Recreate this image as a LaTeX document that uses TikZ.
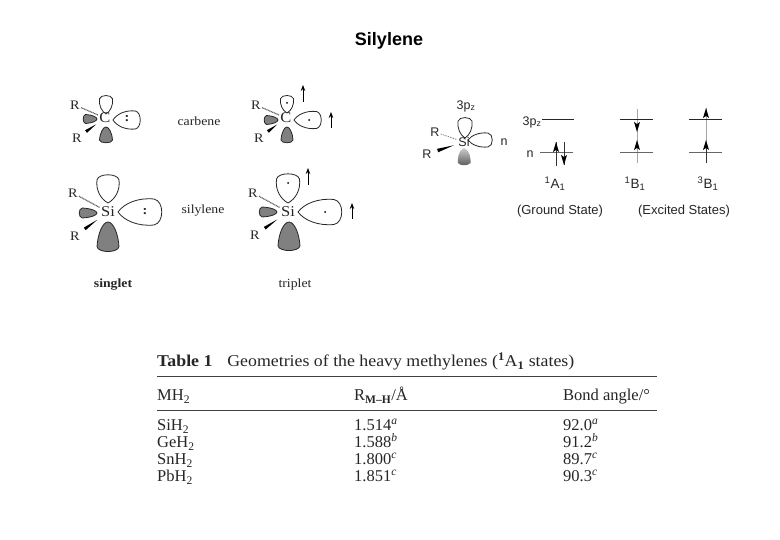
\documentclass[tikz,border=0pt]{standalone}
\usepackage{fontspec}
\setmainfont{Liberation Serif}
\setsansfont{Liberation Sans}
\newfontfamily\capfont[FakeStretch=1.08]{Liberation Serif}
\newfontfamily\lblfont[FakeStretch=1.1]{Liberation Serif}
\usetikzlibrary{calc,arrows.meta}
\definecolor{ink}{gray}{0.15}
\definecolor{lobefill}{gray}{0.5}
\tikzset{
 x=1pt,y=-1pt,
 serif/.style={font=\lblfont\fontsize{#1}{#1}\selectfont,text=ink,inner sep=0pt},
 sans/.style={font=\sffamily\fontsize{#1}{#1}\selectfont,text=ink,inner sep=0pt},
 tabtext/.style={font=\rmfamily\fontsize{16.5}{16.5}\selectfont,text=ink,inner sep=0pt,anchor=base west},
 atom/.style={serif=15,inner sep=1pt},
 rgroup/.style={serif=13,inner sep=1pt},
 atomb/.style={sans=12.5,inner sep=1pt},
 rgroupb/.style={sans=12.5,inner sep=1pt},
 openlobe/.style={draw=ink,line width=0.8pt,fill=white,line join=round},
 graylobe/.style={draw=ink,line width=0.8pt,fill=lobefill,line join=round},
 spin/.style={line width=0.9pt,draw=black,-{Stealth[length=6pt,width=4.5pt]}},
 dotbond/.style={draw=black!60,line width=1.2pt,dash pattern=on 1pt off 0.6pt},
 level/.style={line width=1pt,draw=black!85},
 levelgray/.style={line width=1pt,draw=black!60},
 guide/.style={line width=0.5pt,draw=black!35},
 rowrule/.style={line width=1pt,draw=black!75},
}
% tip x, tip y, angle, length, width, style
\newcommand{\lobe}[6]{\draw[#6,shift={(#1,#2)},rotate=#3]
 (0,0) .. controls ({.14*#4},{.34*#5}) and ({.45*#4},{.56*#5}) .. ({.8*#4},{.5*#5})
 .. controls ({1.03*#4},{.42*#5}) and ({1.03*#4},{-.42*#5}) .. ({.8*#4},{-.5*#5})
 .. controls ({.45*#4},{-.56*#5}) and ({.14*#4},{-.34*#5}) .. (0,0) -- cycle;}
\newcommand{\egg}[6]{\draw[#6,shift={(#1,#2)},rotate=#3]
 (0,0) .. controls ({0*#4},{.22*#5}) and ({.35*#4},{.46*#5}) .. ({.82*#4},{.5*#5})
 .. controls ({1.04*#4},{.45*#5}) and ({1.04*#4},{-.45*#5}) .. ({.82*#4},{-.5*#5})
 .. controls ({.35*#4},{-.46*#5}) and ({0*#4},{-.22*#5}) .. (0,0) -- cycle;}
% wedge: broad end at the R group (first name), point at the atom (second name)
\newcommand{\wedgebond}[3]{\path (#1) -- (#2) coordinate[pos=.2](wa) coordinate[pos=.86](wb);
 \fill[black] (wb) -- ($(wa)!#3!90:(wb)$) -- ($(wa)!#3!-90:(wb)$) -- cycle;}
\newcommand{\elec}[2]{\fill[black] (#1,#2) circle (1pt);}
\newcommand{\headup}[2]{\fill[black] (#1,#2) -- (#1+3,#2+10) -- (#1,#2+8) -- (#1-3,#2+10) -- cycle;}
\newcommand{\headdown}[2]{\fill[black] (#1,#2) -- (#1+3,#2-10) -- (#1,#2-8) -- (#1-3,#2-10) -- cycle;}
\begin{document}
\begin{tikzpicture}
\useasboundingbox (0,0) rectangle (780,540);
\fill[white] (0,0) rectangle (780,540);
\node[font=\sffamily\bfseries\fontsize{18}{18}\selectfont,text=black,inner sep=0pt] (title) at (389,41) {Silylene};

% carbene singlet
\lobe{106}{114}{90}{19}{13}{openlobe}
\lobe{113}{120}{0}{28}{18}{openlobe}
\egg{97}{119}{180}{14}{9}{graylobe}
\egg{106}{127}{-90}{16}{13}{graylobe}
\node[atom] (c1) at (105,118) {C};
\node[rgroup] (r1a) at (75,105) {R};
\node[rgroup] (r1b) at (77,138) {R};
\draw[dotbond] (r1a) -- (c1);
\wedgebond{r1b}{c1}{1.6pt}
\node[serif=13] (cn1) at (127,119) {\textbf{:}};
\node[serif=12.5] (carb) at (199,121) {carbene};

% silylene singlet
\lobe{108}{203}{90}{29}{22}{openlobe}
\lobe{118}{212}{0}{45}{26}{openlobe}
\egg{97}{213}{180}{18}{10}{graylobe}
\egg{108}{222}{-90}{30}{22}{graylobe}
\node[atom] (si1) at (108,212) {Si};
\node[rgroup] (r2a) at (73,193) {R};
\node[rgroup] (r2b) at (75,236) {R};
\draw[dotbond] (r2a) -- (si1);
\wedgebond{r2b}{si1}{1.6pt}
\node[serif=13] (cn2) at (145,212) {\textbf{:}};
\node[serif=12.5] (sily) at (203,211) {silylene};
\node[font=\lblfont\bfseries\fontsize{12.5}{12.5}\selectfont,text=ink,inner sep=0pt] (sing) at (113,285) {singlet};

% carbene triplet
\lobe{287}{113}{90}{18}{13}{openlobe}
\lobe{294}{120}{0}{28}{17}{openlobe}
\egg{278}{120}{180}{14}{9}{graylobe}
\egg{287}{127}{-90}{16}{12}{graylobe}
\node[atom] (c2) at (286,118) {C};
\node[rgroup] (r3a) at (256,105) {R};
\node[rgroup] (r3b) at (259,138) {R};
\draw[dotbond] (r3a) -- (c2);
\wedgebond{r3b}{c2}{1.6pt}
\elec{287}{103}
\elec{309}{120}
\coordinate (u1a) at (303,102); \coordinate (u1b) at (303,85);
\coordinate (u2a) at (331,128); \coordinate (u2b) at (331,112);
\draw[spin] (u1a) -- (u1b);
\draw[spin] (u2a) -- (u2b);

% silylene triplet
\lobe{288}{203}{90}{30}{23}{openlobe}
\lobe{298}{212}{0}{45}{25}{openlobe}
\egg{277}{212}{180}{18}{10}{graylobe}
\egg{289}{222}{-90}{29}{22}{graylobe}
\node[atom] (si2) at (288,212) {Si};
\node[rgroup] (r4a) at (253,193) {R};
\node[rgroup] (r4b) at (255,235) {R};
\draw[dotbond] (r4a) -- (si2);
\wedgebond{r4b}{si2}{1.6pt}
\elec{288}{183}
\elec{325}{212}
\coordinate (u3a) at (308,185); \coordinate (u3b) at (308,168);
\coordinate (u4a) at (352,219); \coordinate (u4b) at (352,203);
\draw[spin] (u3a) -- (u3b);
\draw[spin] (u4a) -- (u4b);
\node[serif=12.5] (trip) at (295,284) {triplet};

% silylene structure right
\lobe{465}{138}{90}{21}{14}{openlobe}
\lobe{468}{140}{0}{25}{14}{openlobe}
\shade[top color=black!20,bottom color=black!65] (464,148) .. controls (458,150) and (457.5,160) .. (458,163) .. controls (460,166) and (468,166) .. (470.5,163) .. controls (471,160) and (470,150) .. (464,148) -- cycle;
\node[atomb] (si3) at (464,142) {Si};
\node[atomb] (r5a) at (435,132) {R};
\node[atomb] (r5b) at (427,154) {R};
\draw[draw=black!60,line width=0.6pt,dash pattern=on 1.5pt off 1pt] (r5a) -- (si3);
\wedgebond{r5b}{si3}{1.8pt}
\node[sans=12.5] (pz1) at (466,106) {3p\textsubscript{z}};
\node[sans=12.5] (n1) at (504,142) {n};

% levels
\node[sans=12.5] (pz2) at (532,122) {3p\textsubscript{z}};
\node[sans=12.5] (n2) at (530,154) {n};
\coordinate (la1) at (542,120); \coordinate (la2) at (574,120);
\coordinate (lb1) at (540,153); \coordinate (lb2) at (573,153);
\draw[level] (la1) -- (la2);
\draw[levelgray] (lb1) -- (lb2);
\coordinate (a1) at (556,166); \coordinate (a2) at (556,142);
\coordinate (a3) at (564,142); \coordinate (a4) at (564,165);
\draw[line width=0.9pt,draw=black!80] (a1) -- (a2);
\draw[line width=0.9pt,draw=black!80] (a3) -- (a4);
\headup{556}{142}
\headdown{564}{165}
\node[sans=13.5] (s1) at (555,184) {\textsuperscript{1}A\textsubscript{1}};

\coordinate (g1) at (637,109); \coordinate (g2) at (637,163);
\draw[guide] (g1) -- (g2);
\coordinate (lc1) at (620,120); \coordinate (lc2) at (653,120);
\coordinate (ld1) at (620,153); \coordinate (ld2) at (653,153);
\draw[level] (lc1) -- (lc2);
\draw[levelgray] (ld1) -- (ld2);
\headdown{637}{132}
\headup{637}{140}
\node[sans=13.5] (s2) at (635,184) {\textsuperscript{1}B\textsubscript{1}};

\coordinate (g3) at (706,108); \coordinate (g4) at (706,142);
\draw[guide] (g3) -- (g4);
\coordinate (le1) at (689,120); \coordinate (le2) at (722,120);
\coordinate (lf1) at (689,153); \coordinate (lf2) at (722,153);
\draw[level] (le1) -- (le2);
\draw[levelgray] (lf1) -- (lf2);
\coordinate (k3) at (706,163); \coordinate (k4) at (706,145);
\draw[line width=0.9pt,draw=black!80] (k3) -- (k4);
\headup{706}{108}
\headup{706}{140}
\node[sans=13.5] (s3) at (708,184) {\textsuperscript{3}B\textsubscript{1}};

\node[sans=13] (gs) at (560,211) {(Ground State)};
\node[sans=13] (es) at (684,211) {(Excited States)};

% table
\coordinate (t1) at (157,377); \coordinate (t2) at (657,377);
\coordinate (t3) at (157,410); \coordinate (t4) at (657,410);
\draw[rowrule] (t1) -- (t2);
\draw[rowrule] (t3) -- (t4);
\node[tabtext,font=\capfont\fontsize{16.5}{16.5}\selectfont] (cap) at (157,366.5) {\textbf{Table 1}\hspace{0.9em}Geometries of the heavy methylenes (\textsuperscript{\textbf{1}}A\textsubscript{\textbf{1}} states)};
\node[tabtext] (ha) at (157,400.5) {MH\textsubscript{2}};
\node[tabtext] (hb) at (354,400.5) {R\textsubscript{\textbf{M--H}}/Å};
\node[tabtext] (hc) at (563,400.5) {Bond angle/°};
\foreach \y/\m/\r/\rn/\an in {430.5/Si/1.514/a/92.0,447.5/Ge/1.588/b/91.2,464.5/Sn/1.800/c/89.7,481.5/Pb/1.851/c/90.3}{
 \node[tabtext] at (157,\y) {\m H\textsubscript{2}};
 \node[tabtext] at (354,\y) {\r\textsuperscript{\textit{\rn}}};
 \node[tabtext] at (563,\y) {\an\textsuperscript{\textit{\rn}}};
}
\end{tikzpicture}
\end{document}
